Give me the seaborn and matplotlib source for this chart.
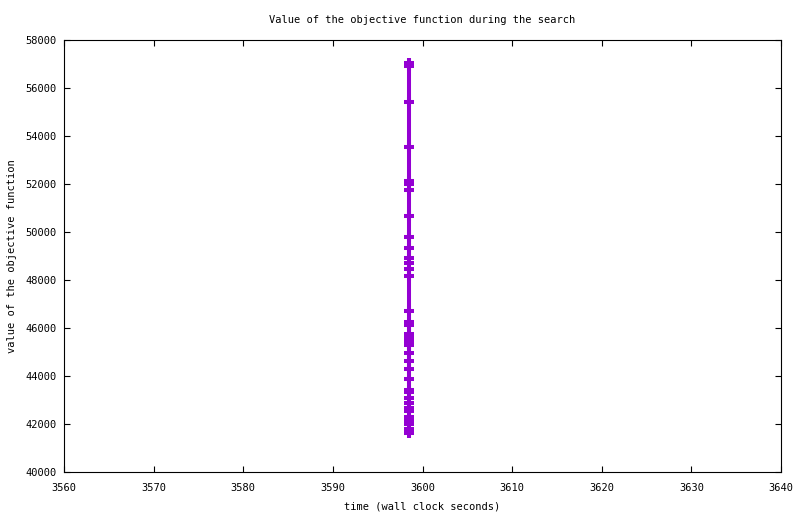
import numpy as np
import pandas as pd
import matplotlib
matplotlib.use('Agg')
import matplotlib.pyplot as plt
import seaborn as sns

sns.set_style('ticks')
plt.rcParams['font.family'] = ['DejaVu Sans Mono', 'DejaVu Sans']
plt.rcParams['text.color'] = 'black'
plt.rcParams['axes.labelcolor'] = 'black'
plt.rcParams['xtick.color'] = 'black'
plt.rcParams['ytick.color'] = 'black'

# objective values logged during the search (all at about the same wall clock time)
values = [57040, 56920, 55417, 53521, 52125, 52000, 51750, 50667, 49792,
          49333, 48917, 48708, 48438, 48167, 46708, 46250, 46125, 45750,
          45583, 45438, 45292, 44958, 44625, 44271, 43875, 43417, 43333,
          43083, 42875, 42667, 42542, 42292, 42146, 42000, 41792, 41625]
times = [3598.5] * len(values)

df = pd.DataFrame({'time': times, 'value': values})

fig = plt.figure(figsize=(8, 5.14), dpi=100)
ax = fig.add_axes([64 / 800, 1 - 472 / 514, (781 - 64) / 800, (472 - 40) / 514])

sns.lineplot(data=df, x='time', y='value', ax=ax, estimator=None, sort=False,
             color='#9400D3', lw=2.9, marker='+', markersize=7.2,
             markeredgewidth=2.9, markeredgecolor='#9400D3')

ax.set_xlim(3560, 3640)
ax.set_ylim(40000, 58000)
ax.set_xticks(np.arange(3560, 3641, 10))
ax.set_yticks(np.arange(40000, 58001, 2000))
ax.tick_params(direction='in', length=4.3, width=0.8, top=True, right=True,
               labelsize=7.5)
ax.tick_params(axis='x', pad=8)
ax.tick_params(axis='y', pad=5.5)
for s in ax.spines.values():
    s.set_linewidth(0.8)
    s.set_color('black')

ax.set_title('Value of the objective function during the search', fontsize=7.5, pad=12)
ax.set_xlabel('time (wall clock seconds)', fontsize=7.5, labelpad=6)
ax.set_ylabel('value of the objective function', fontsize=7.5, labelpad=6)

fig.savefig('out.png', dpi=100)
